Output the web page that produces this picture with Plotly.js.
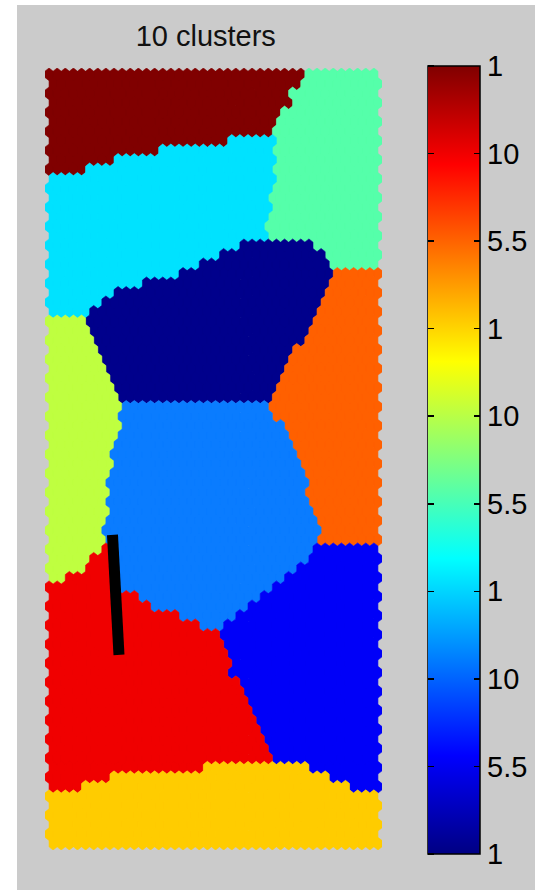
<!DOCTYPE html>
<html><head><meta charset="utf-8">
<script src="https://cdn.plot.ly/plotly-3.0.1.min.js"></script>
<style>
html,body{margin:0;padding:0;background:#ffffff;width:535px;height:890px;overflow:hidden}
#plot{position:absolute;left:17px;top:5px;width:518px;height:885px}
</style></head><body><div id="plot"></div>
<script>
// cluster codes and their colours (jet-like palette)
const clusterCodes  = ['A','B','C','D','E','F','G','H','I','J'];
const clusterColors = ['#800000','#55ffaa','#00e2ff','#00008c','#ff6000','#bfff40','#0a7cff','#0000f8','#f00000','#ffcc00'];
const nCols = 41;
// hexagonal SOM lattice, one run-length string per row (top to bottom)
const rowRuns = [
 'A32B9','A31B10','A30B11','A30B11','A29B12','A28B13','A28B13','A22C6B13','A14C14B13','A8C20B13',
 'A5C23B13','C28B13','C28B13','C27B14','C28B13','C27B14','C27B14','C27B14','C24D9B8','C21D13B7',
 'C19D16B6','C16D19E6','C12D23E6','C8D26E7','C7D27E7','C5D28E8','F5D28E8','F5D27E9','F6D26E9','F6D24E11',
 'F7D23E11','F7D22E12','F8D21E12','F8D20E13','F9D19E13','F9G18E14','F9G19E13','F9G20E12','F9G21E11','F8G22E11',
 'F8G23E10','F8G23E10','F8G24E9','F7G25E9','F8G24E9','F7G25E9','F8G25E8','F7G26E8','F7G27E7','F7G26E8',
 'F7I1G25H8','F5I3G24H9','F5I3G23H10','F2I6G21H12','I9G19H13','I11G15H15','I13G12H16','I16G7H18','I19G3H19','I21H20',
 'I22H19','I22H19','I23H18','I22H19','I24H17','I24H17','I25H16','I25H16','I26H15','I26H15',
 'I27H14','I27H14','I28H13','I19J13H9','I8J27H6','I4J33H4','J41','J41','J41','J41',
 'J41','J41'
];
// trajectory drawn in black (lattice coordinates)
const trackX = [7.81, 8.24, 8.61];
const trackY = [48.49, 54.28, 61.12];
// colour bar ticks
const cbTickVals = [0,1,2,3,4,5,6,7,8,9];
const cbTickText = ['1','5.5','10','1','5.5','10','1','5.5','10','1'];
const jet = [[0,'rgb(0,0,131)'],[0.125,'rgb(0,0,255)'],[0.375,'rgb(0,255,255)'],[0.625,'rgb(255,255,0)'],[0.875,'rgb(255,0,0)'],[1,'rgb(128,0,0)']];

const FONT = 'Liberation Sans, Arial, Helvetica, sans-serif';
const nRows = rowRuns.length;
const xs = clusterCodes.map(()=>[]), ys = clusterCodes.map(()=>[]);
const h = 2/3, s = 1/3;
rowRuns.forEach((str, r) => {
  let c = 0;
  const re = /([A-J])(\d+)/g; let m;
  while ((m = re.exec(str))) {
    const k = clusterCodes.indexOf(m[1]);
    for (let i = 0; i < +m[2]; i++, c++) {
      const cx = c + (r % 2) * 0.5, cy = r;
      xs[k].push(cx, cx+0.5, cx+0.5, cx, cx-0.5, cx-0.5, cx, null);
      ys[k].push(cy-h, cy-s, cy+s, cy+h, cy+s, cy-s, cy-h, null);
    }
  }
});
const traces = clusterCodes.map((code,k)=>({
  type:'scatter', mode:'lines', x:xs[k], y:ys[k], fill:'toself', fillcolor:clusterColors[k],
  line:{color:clusterColors[k], width:0.6}, hoverinfo:'skip', showlegend:false
}));
traces.push({type:'scatter', mode:'lines', x:trackX, y:trackY, line:{color:'#000', width:11}, hoverinfo:'skip', showlegend:false});
const cbPos = {x:(428-45)/337, xanchor:'left', y:(850-66)/782, yanchor:'top', lenmode:'fraction', len:788/782,
  thicknessmode:'pixels', xpad:0, ypad:0, tickmode:'array', tickvals:cbTickVals, ticklen:6, tickwidth:1.5, tickcolor:'#000'};
traces.push({type:'scatter', mode:'markers', x:[null,null], y:[null,null], hoverinfo:'skip', showlegend:false,
  marker:{color:[0,9], cmin:0, cmax:9, colorscale:jet, showscale:true,
    colorbar:Object.assign({}, cbPos, {thickness:52, outlinewidth:1.5, outlinecolor:'#000',
      ticks:'inside', ticktext:cbTickText, tickfont:{family:FONT, size:29, color:'#000'}})}});
// second, zero-width colour bar: only supplies the tick marks on the left edge of the bar
traces.push({type:'scatter', mode:'markers', x:[null,null], y:[null,null], hoverinfo:'skip', showlegend:false,
  marker:{color:[0,9], cmin:0, cmax:9, colorscale:jet, showscale:true,
    colorbar:Object.assign({}, cbPos, {thickness:0, outlinewidth:0, ticks:'outside', showticklabels:false})}});

const layout = {
  width:518, height:885, paper_bgcolor:'#cbcbcb', plot_bgcolor:'rgba(0,0,0,0)',
  margin:{l:28, r:153, t:63, b:40, autoexpand:false},
  title:{text:'10 clusters', font:{family:FONT, size:29, color:'#111'}, xref:'paper', x:0.477, xanchor:'center',
         yref:'container', y:1-31/885, yanchor:'middle'},
  xaxis:{range:[-0.5, nCols], visible:false, showgrid:false, zeroline:false, fixedrange:true},
  yaxis:{range:[nRows-1+h, -h], visible:false, showgrid:false, zeroline:false, fixedrange:true},
  showlegend:false
};
Plotly.newPlot('plot', traces, layout, {staticPlot:true, displayModeBar:false});
</script></body></html>
